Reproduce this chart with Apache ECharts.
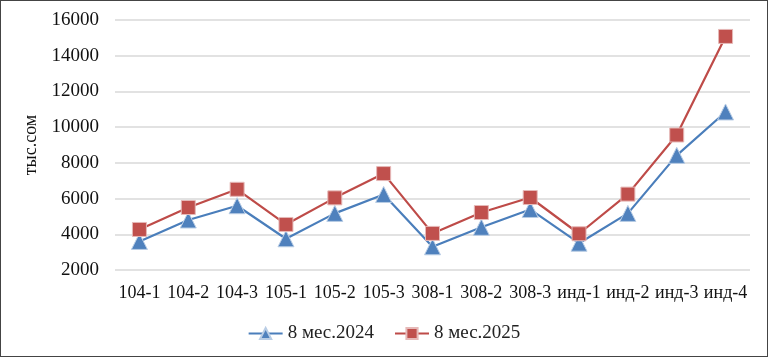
<!DOCTYPE html>
<html><head><meta charset="utf-8">
<script src="https://cdn.jsdelivr.net/npm/echarts@6/dist/echarts.min.js"></script>
<style>
html,body{margin:0;padding:0;background:#fff;}
#c{width:768px;height:357px;box-sizing:border-box;border:1px solid #444;}
</style></head>
<body><div id="c"></div>
<script>
const categories = ['104-1','104-2','104-3','105-1','105-2','105-3','308-1','308-2','308-3','инд-1','инд-2','инд-3','инд-4'];
const series2024 = [3600, 4800, 5600, 3750, 5170, 6230, 3300, 4390, 5390, 3500, 5170, 8420, 10850];
const series2025 = [4270, 5500, 6520, 4550, 6040, 7400, 4050, 5220, 6060, 4030, 6250, 9560, 15080];
const seriesNames = ['8 мес.2024', '8 мес.2025'];
const yTitle = 'тыс.сом';

const chart = echarts.init(document.getElementById('c'), null, {renderer:'canvas'});
const font = 'Liberation Serif, Times New Roman, serif';
chart.setOption({
  animation:false,
  textStyle:{fontFamily:font},
  grid:{left:114, right:17, top:19, bottom:86},
  legend:{
    top:318, left:'center', itemWidth:34, itemHeight:14, itemGap:20,
    textStyle:{fontFamily:font, fontSize:19, color:'#222'},
    data:seriesNames
  },
  xAxis:{
    type:'category', data:categories, boundaryGap:true,
    axisLine:{show:false}, axisTick:{show:false},
    axisLabel:{fontFamily:font, fontSize:18, color:'#111', margin:14, interval:0}
  },
  yAxis:{
    type:'value', min:2000, max:16000, interval:2000,
    name:yTitle, nameLocation:'middle', nameGap:70, nameRotate:90,
    nameTextStyle:{fontFamily:font, fontSize:18, color:'#111'},
    axisLine:{show:false}, axisTick:{show:false},
    axisLabel:{fontFamily:font, fontSize:19, color:'#111', margin:16, formatter:v=>String(v)},
    splitLine:{lineStyle:{color:'#d9d9d9', width:1.5}}
  },
  series:[
    {name:seriesNames[0], type:'line', data:series2024, symbol:'triangle', symbolSize:16,
     lineStyle:{color:'#4a7ebb', width:2.2}, itemStyle:{color:'#4f81bd', borderColor:'#b9cde5', borderWidth:1}},
    {name:seriesNames[1], type:'line', data:series2025, symbol:'rect', symbolSize:14,
     lineStyle:{color:'#be4b48', width:2.2}, itemStyle:{color:'#c0504d', borderColor:'#e6b9b8', borderWidth:1}}
  ]
});
</script></body></html>
